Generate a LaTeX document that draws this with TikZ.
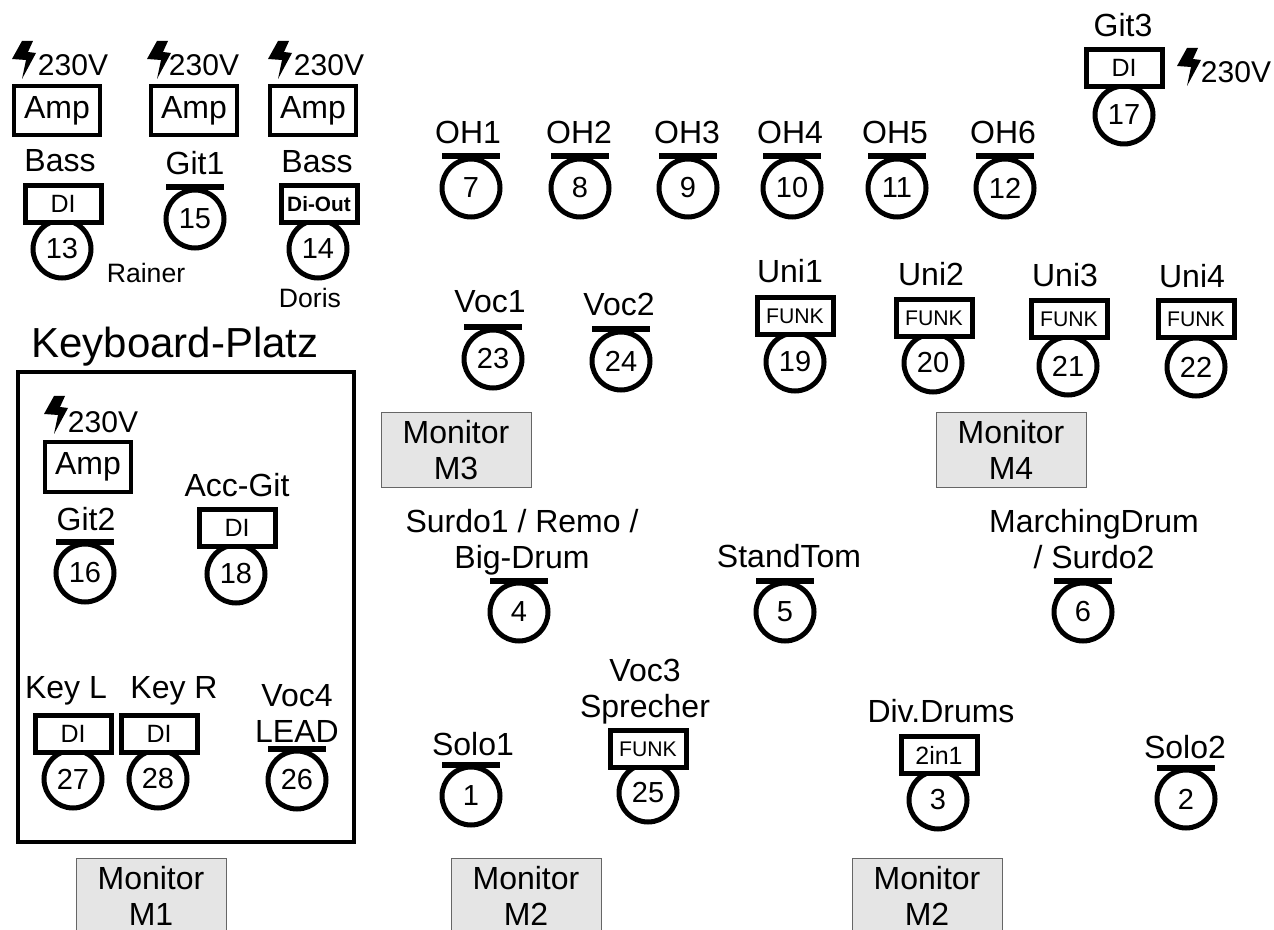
\documentclass[tikz,border=0pt]{standalone}
\usepackage{fontspec}
\setmainfont{Liberation Sans}
\usetikzlibrary{calc}

\tikzset{
    txt/.style={font=\fontsize{16}{18}\selectfont, inner sep=0pt, anchor=base},
    pow/.style={font=\fontsize{15}{18}\selectfont, inner sep=0pt, anchor=base},
    rem/.style={font=\fontsize{13.3}{16}\selectfont, inner sep=0pt, anchor=base},
    mic/.style={draw, circle, line width=2.5pt, minimum size=29pt, inner sep=0pt, fill=white, font=\fontsize{14.5}{17}\selectfont},
    micbar/.style={line width=3pt},
    dibox/.style={draw, rectangle, line width=2.5pt, minimum width=38pt, minimum height=18.5pt, inner sep=0pt, fill=white, font=\fontsize{12.5}{15}\selectfont},
    funkbox/.style={dibox, font=\fontsize{10.6}{13}\selectfont},
    ampbox/.style={draw, rectangle, line width=2pt, minimum width=43pt, minimum height=24.5pt, inner sep=0pt, font=\fontsize{16}{18}\selectfont},
    monbox/.style={draw=black!60, fill=gray!20, line width=0.5pt, minimum width=75pt, minimum height=37.5pt, inner sep=0pt, align=center, font=\fontsize{16}{18.3}\selectfont},
    bolt/.pic={\fill (10,0) -- (21,0) -- (16,11) -- (24,12) -- (10,38) -- (14,19) -- (0,18) -- cycle;}
}

\begin{document}
\begin{tikzpicture}[x=0.5pt, y=-0.5pt]
    \clip (0,0) rectangle (1274,930);

    % Keyboard area
    \draw[line width=2pt] (18,372) rectangle (354,842);
    \node[txt, font=\fontsize{21}{25}\selectfont] (kbd) at (175,358) {Keyboard-Platz};

    % Monitors
    \foreach \n/\x/\y/\t in {m3/456/450/M3, m4/1011/450/M4, m1/151/896/M1, m2a/526/896/M2, m2b/927/896/M2} {
        \node[monbox] (\n) at (\x,\y) {Monitor\\\t};
    }

    % Mics with a bar on top
    \foreach \n/\x/\y in {7/471/188, 8/580/188, 9/688/188, 10/792/188, 11/897/188, 12/1005/188,
                          15/195/219, 23/493/359, 24/621/361, 16/85/573, 26/297/780,
                          4/519/612, 5/785/612, 6/1083/612, 1/471/796, 2/1186/799} {
        \node[mic] (c\n) at (\x,\y) {\n};
        \draw[micbar] ($(c\n.north)+(-29,0)$) -- ($(c\n.north)+(29,0)$);
    }

    % Mics with a box on top
    \foreach \n/\x/\y/\bx/\by/\s/\t in {13/62/249/63/204/dibox/DI, 17/1124/115/1124/68/dibox/DI,
                                        18/236/574/237/528/dibox/DI, 27/73/779/73/734/dibox/DI, 28/158/779/159/734/dibox/DI,
                                        19/795/362/795/316/funkbox/FUNK, 20/933/363/934/318/funkbox/FUNK,
                                        21/1068/366/1069/319/funkbox/FUNK, 22/1196/367/1196/319/funkbox/FUNK,
                                        25/648/793/648/749/funkbox/FUNK, 3/938/800/939/755/dibox/2in1} {
        \node[mic] (c\n) at (\x,\y) {\n};
        \node[\s] (b\n) at (\bx,\by) {\t};
    }
    \node[mic] (c14) at (318,249) {14};
    \node[dibox, font=\fontsize{10.4}{12}\selectfont\bfseries] (b14) at (319,204) {Di-Out};

    % Amps
    \foreach \n/\x/\y in {1/57/111, 2/194/111, 3/313/111, 4/88/467} {
        \node[ampbox] (a\n) at (\x,\y) {Amp};
    }

    % Power
    \foreach \n/\x/\y/\bx/\by in {1/73/76/12/41, 2/204/76/147/41, 3/329/76/268/41, 4/103/432/44/396, 5/1236/83/1177/48} {
        \node[pow] (p\n) at (\x,\y) {230V};
        \pic (z\n) at (\bx,\by) {bolt};
    }

    % Labels
    \foreach \n/\x/\y/\t in {b1/60/172/Bass, g1/195/175/Git1, b2/317/173/Bass, g3/1123/37/Git3,
                             oh1/468/144/OH1, oh2/579/144/OH2, oh3/687/144/OH3, oh4/790/144/OH4, oh5/895/144/OH5, oh6/1003/144/OH6,
                             v1/490/313/Voc1, v2/619/316/Voc2, u1/790/283/Uni1, u2/931/286/Uni2, u3/1065/287/Uni3, u4/1192/288/Uni4,
                             g2/86/530/Git2, ac/237/496/Acc-Git, kl/66/698/Key L, kr/174/698/Key R,
                             st/789/567/StandTom, s1/473/755/Solo1, dd/941/722/Div.Drums, s2/1185/758/Solo2} {
        \node[txt] (l\n) at (\x,\y) {\t};
    }
    \node[txt, align=center] (lv4) at (297,742) {Voc4\\LEAD};
    \node[txt, align=center] (lv3) at (645,717) {Voc3\\Sprecher};
    \node[txt, align=center] (lsu) at (522,568) {Surdo1 / Remo /\\Big-Drum};
    \node[txt, align=center] (lma) at (1094,568) {MarchingDrum\\/ Surdo2};

    % Players
    \node[rem] (rainer) at (146,283) {Rainer};
    \node[rem] (doris) at (310,308) {Doris};
\end{tikzpicture}
\end{document}
